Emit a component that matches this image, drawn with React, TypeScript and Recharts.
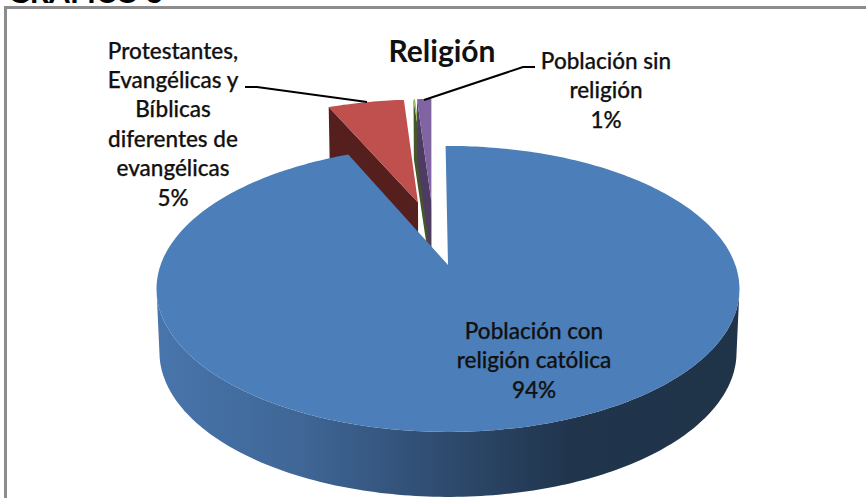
import { PieChart, Pie } from 'recharts';

/* ============================================
   RELIGION PIE
   Exploded 3D-style pie, drawn from Recharts
   sector angles through a perspective projection
   ============================================ */

// Draw order runs back to front, so the large slice comes last
const categories = [
  'Protestantes, Evangélicas y Bíblicas diferentes de evangélicas',
  'Otras religiones',
  'Población sin religión',
  'Población con religión católica',
];
const values = [5.3, 0.1, 1, 93.6];
const topColors = ['#C0504D', '#9BBB59', '#8064A2', '#4C7EB9'];
const wallColors = ['#541F1D', '#45562A', '#4D3B62', '#2E486B'];

const labelLines = [
  ['Protestantes,', 'Evangélicas y', 'Bíblicas', 'diferentes de', 'evangélicas'],
  [],
  ['Población sin', 'religión'],
  ['Población con', 'religión católica'],
];

const total = values.reduce((sum, v) => sum + v, 0);
const largeShare = values[values.length - 1] / total;

// The large slice starts just left of twelve o'clock and the rest follow clockwise
const FIRST_SLICE_ANGLE = 90.5;
const START_ANGLE = FIRST_SLICE_ANGLE + 360 * (1 - largeShare);
const END_ANGLE = START_ANGLE - 360;

const tableData = categories.map((name, i) => ({
  name,
  value: values[i],
  fill: topColors[i],
  wall: wallColors[i],
}));

const FONT = 'Lato, "Open Sans", sans-serif';
const TEXT_COLOR = '#111111';

const PIE_CX = 446.5;
const PIE_CY = 289;
const PIE_RADIUS = 291.5;

// Projection settings
const TILT = 143 / 291.5;
const FORESHORTEN = 0.168;
const EXPLODE = 0.25;
const PIVOT = [-0.047, 0.245];
const DEPTH = 63;
const BOTTOM_SHRINK = 0.99;

const LABEL_LAYOUT = [
  { x: 173, y: 50, step: 29.4, leader: [[245, 87], [257, 87], [367, 102]] },
  null,
  { x: 606, y: 60, step: 29.5, leader: [[424, 100], [523, 67], [535, 67]] },
  { x: 534, y: 330, step: 29.5, leader: [] },
];

const rad = (deg: number) => (deg * Math.PI) / 180;

// Maps a point on the unit disk to the tilted, foreshortened screen plane
const project = (
  cx: number,
  cy: number,
  r: number,
  u: number,
  v: number,
  lower = false,
): [number, number] => {
  const d = 1 + FORESHORTEN * v;
  const scale = Math.sqrt(1 - FORESHORTEN * FORESHORTEN);
  const xr = lower ? r * BOTTOM_SHRINK : r;
  const yr = r * TILT * (lower ? 1.014 : 1);
  return [
    cx + (xr * u * scale) / d,
    cy + (lower ? DEPTH : 0) - (yr * (v + FORESHORTEN)) / d,
  ];
};

const toPath = (points: [number, number][]) =>
  points.map((p, i) => `${i ? 'L' : 'M'}${p[0].toFixed(1)} ${p[1].toFixed(1)}`).join(' ') + ' Z';

const ProjectedSlice = (props: any) => {
  const { cx, cy, outerRadius, startAngle, endAngle, midAngle, fill, payload, index } = props;
  const ox = PIVOT[0] + EXPLODE * Math.cos(rad(midAngle));
  const oy = PIVOT[1] + EXPLODE * Math.sin(rad(midAngle));

  const steps = Math.max(3, Math.ceil(Math.abs(startAngle - endAngle)));
  const arc: [number, number][] = [];
  for (let i = 0; i <= steps; i++) {
    const a = rad(startAngle + ((endAngle - startAngle) * i) / steps);
    arc.push([ox + Math.cos(a), oy + Math.sin(a)]);
  }
  const top = arc.map(([u, v]) => project(cx, cy, outerRadius, u, v));
  const apex = project(cx, cy, outerRadius, ox, oy);
  const isLarge = index === values.length - 1;

  if (isLarge) {
    // Only the rim facing the viewer shows
    const front = arc.filter(([u, v]) => (v + FORESHORTEN) / (1 + FORESHORTEN * v) <= 0);
    const rimTop = front.map(([u, v]) => project(cx, cy, outerRadius, u, v));
    const rimBottom = front.map(([u, v]) => project(cx, cy, outerRadius, u, v, true)).reverse();
    return (
      <g>
        <path d={toPath([...rimTop, ...rimBottom])} fill="url(#rimShade)" />
        <path d={toPath([apex, ...top])} fill={fill} />
      </g>
    );
  }

  // Small slices show the cut face on their left side
  const wall = [
    top[0],
    apex,
    project(cx, cy, outerRadius, ox, oy, true),
    project(cx, cy, outerRadius, arc[0][0], arc[0][1], true),
  ] as [number, number][];
  return (
    <g>
      <path d={toPath(wall)} fill={payload.wall} />
      <path d={toPath([apex, ...top])} fill={fill} />
    </g>
  );
};

const SliceLabel = (props: any) => {
  const { index, percent } = props;
  const layout = LABEL_LAYOUT[index];
  if (!layout) return null;
  const lines = [...labelLines[index], `${Math.round(percent * 100)}%`];
  return (
    <g>
      {layout.leader.length > 0 && (
        <polyline
          points={layout.leader.map((p) => p.join(',')).join(' ')}
          fill="none"
          stroke="#000000"
          strokeWidth={2}
        />
      )}
      {lines.map((line, i) => (
        <text
          key={line}
          x={layout.x}
          y={layout.y + i * layout.step}
          textAnchor="middle"
          dominantBaseline="central"
          fontFamily={FONT}
          fontSize={22.5}
          fontWeight={500}
          fill={TEXT_COLOR}
          stroke={TEXT_COLOR}
          strokeWidth={0.25}
        >
          {line}
        </text>
      ))}
    </g>
  );
};

const App = () => (
  <div style={{ position: 'absolute', left: 0, top: 0, width: 866, height: 498, overflow: 'hidden', background: '#fff' }}>
    <div
      style={{
        position: 'absolute',
        left: 4,
        top: 6,
        width: 862,
        height: 492,
        borderLeft: '3px solid #8c8c8c',
        borderTop: '3px solid #8c8c8c',
      }}
    />
    <div style={{ position: 'absolute', left: 0, top: 0 }}>
      <PieChart width={866} height={498} margin={{ top: 0, right: 0, bottom: 0, left: 0 }}>
        <defs>
          <linearGradient id="rimShade" x1="0" y1="0" x2="1" y2="0">
            <stop offset="0" stopColor="#4875AC" />
            <stop offset="0.25" stopColor="#3F6696" />
            <stop offset="0.5" stopColor="#2E4A6E" />
            <stop offset="0.72" stopColor="#20344B" />
            <stop offset="1" stopColor="#1F3349" />
          </linearGradient>
        </defs>
        <text x={8} y={3} fontFamily={FONT} fontSize={30} fontWeight={700} fill="#000000">
          GRÁFICO 5
        </text>
        <text
          x={442}
          y={50}
          textAnchor="middle"
          dominantBaseline="central"
          fontFamily={FONT}
          fontSize={30}
          fontWeight={700}
          fill={TEXT_COLOR}
        >
          Religión
        </text>
        <Pie
          data={tableData}
          dataKey="value"
          nameKey="name"
          cx={PIE_CX}
          cy={PIE_CY}
          innerRadius={0}
          outerRadius={PIE_RADIUS}
          startAngle={START_ANGLE}
          endAngle={END_ANGLE}
          paddingAngle={0}
          stroke="none"
          shape={ProjectedSlice}
          label={SliceLabel}
          labelLine={false}
          isAnimationActive={false}
        />
      </PieChart>
    </div>
  </div>
);

export default App;
